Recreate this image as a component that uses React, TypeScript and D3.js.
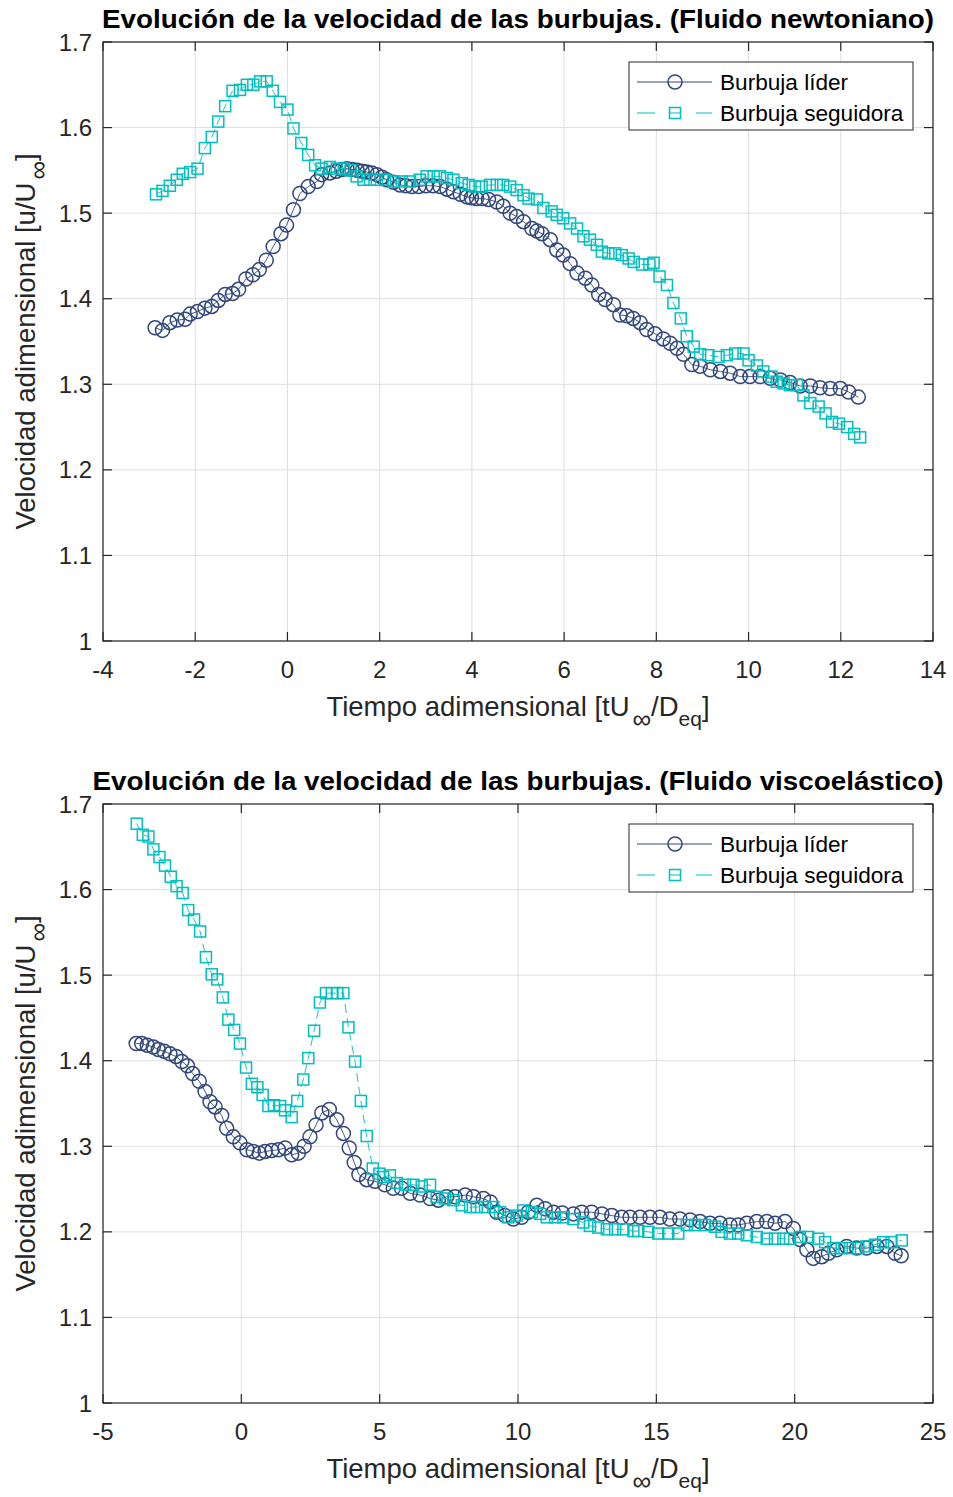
import React from 'react';
import * as d3 from 'd3';

// ---------- Top chart (Fluido newtoniano) ----------
const topTitle = 'Evolución de la velocidad de las burbujas. (Fluido newtoniano)';
const topXTicks = [-4, -2, 0, 2, 4, 6, 8, 10, 12, 14];
const yTicks = [1, 1.1, 1.2, 1.3, 1.4, 1.5, 1.6, 1.7];

const topLeaderT = [-2.87, -2.71, -2.55, -2.39, -2.22, -2.11, -1.95, -1.79, -1.64, -1.50, -1.35, -1.19, -1.06, -0.90, -0.75, -0.61, -0.46, -0.31, -0.14, -0.02, 0.13, 0.27, 0.45, 0.64, 0.74, 0.92, 1.06, 1.18, 1.29, 1.40, 1.51, 1.62, 1.72, 1.83, 1.94, 2.05, 2.15, 2.30, 2.44, 2.57, 2.70, 2.85, 3.00, 3.16, 3.31, 3.46, 3.60, 3.75, 3.89, 3.99, 4.10, 4.22, 4.36, 4.54, 4.68, 4.83, 4.97, 5.12, 5.30, 5.41, 5.52, 5.70, 5.84, 5.98, 6.13, 6.28, 6.46, 6.60, 6.75, 6.89, 7.07, 7.21, 7.36, 7.50, 7.65, 7.79, 7.97, 8.15, 8.30, 8.45, 8.59, 8.77, 8.95, 9.17, 9.39, 9.60, 9.82, 10.03, 10.25, 10.47, 10.69, 10.90, 11.12, 11.34, 11.55, 11.77, 11.99, 12.17, 12.38];
const topLeaderV = [1.366, 1.363, 1.372, 1.375, 1.376, 1.382, 1.385, 1.389, 1.391, 1.398, 1.405, 1.406, 1.411, 1.423, 1.428, 1.434, 1.445, 1.461, 1.476, 1.486, 1.504, 1.523, 1.531, 1.537, 1.545, 1.547, 1.549, 1.551, 1.552, 1.551, 1.550, 1.549, 1.548, 1.547, 1.545, 1.542, 1.539, 1.536, 1.533, 1.532, 1.531, 1.531, 1.532, 1.532, 1.531, 1.528, 1.525, 1.522, 1.519, 1.518, 1.517, 1.517, 1.516, 1.513, 1.508, 1.500, 1.496, 1.490, 1.482, 1.479, 1.476, 1.469, 1.457, 1.451, 1.441, 1.430, 1.424, 1.416, 1.405, 1.399, 1.393, 1.381, 1.380, 1.377, 1.372, 1.364, 1.359, 1.353, 1.348, 1.342, 1.335, 1.323, 1.321, 1.317, 1.315, 1.313, 1.309, 1.309, 1.309, 1.307, 1.305, 1.302, 1.298, 1.298, 1.296, 1.295, 1.295, 1.291, 1.285];

const topFollowerT = [-2.85, -2.71, -2.55, -2.40, -2.27, -2.11, -1.95, -1.79, -1.64, -1.50, -1.35, -1.19, -1.03, -0.88, -0.74, -0.59, -0.45, -0.32, -0.16, 0.00, 0.13, 0.30, 0.45, 0.60, 0.74, 0.92, 1.07, 1.22, 1.37, 1.50, 1.65, 1.79, 1.94, 2.12, 2.30, 2.48, 2.66, 2.87, 3.02, 3.17, 3.31, 3.46, 3.60, 3.78, 3.93, 4.07, 4.21, 4.39, 4.54, 4.68, 4.83, 4.97, 5.12, 5.23, 5.41, 5.55, 5.73, 5.84, 5.98, 6.13, 6.28, 6.42, 6.56, 6.71, 6.82, 6.96, 7.11, 7.25, 7.40, 7.51, 7.69, 7.85, 7.94, 8.07, 8.23, 8.37, 8.53, 8.66, 8.81, 8.95, 9.13, 9.35, 9.53, 9.71, 9.89, 10.00, 10.18, 10.32, 10.50, 10.61, 10.76, 10.90, 11.05, 11.19, 11.34, 11.52, 11.67, 11.81, 11.96, 12.14, 12.29, 12.42];
const topFollowerV = [1.522, 1.526, 1.532, 1.539, 1.546, 1.548, 1.552, 1.576, 1.589, 1.607, 1.625, 1.643, 1.644, 1.650, 1.650, 1.654, 1.654, 1.643, 1.630, 1.621, 1.599, 1.582, 1.568, 1.556, 1.552, 1.554, 1.552, 1.552, 1.550, 1.543, 1.539, 1.539, 1.539, 1.539, 1.537, 1.537, 1.537, 1.539, 1.543, 1.543, 1.543, 1.541, 1.539, 1.535, 1.533, 1.531, 1.531, 1.533, 1.533, 1.533, 1.531, 1.527, 1.521, 1.517, 1.516, 1.506, 1.502, 1.498, 1.494, 1.488, 1.482, 1.473, 1.469, 1.463, 1.455, 1.453, 1.453, 1.451, 1.447, 1.443, 1.440, 1.440, 1.442, 1.426, 1.416, 1.395, 1.377, 1.356, 1.344, 1.335, 1.334, 1.332, 1.334, 1.336, 1.336, 1.328, 1.322, 1.315, 1.309, 1.303, 1.301, 1.299, 1.299, 1.287, 1.278, 1.274, 1.266, 1.256, 1.254, 1.250, 1.242, 1.238];

// ---------- Bottom chart (Fluido viscoelástico) ----------
const botTitle = 'Evolución de la velocidad de las burbujas. (Fluido viscoelástico)';
const botXTicks = [-5, 0, 5, 10, 15, 20, 25];

const botLeaderT = [-3.80, -3.60, -3.40, -3.18, -3.00, -2.79, -2.58, -2.36, -2.15, -1.95, -1.76, -1.52, -1.31, -1.13, -0.95, -0.71, -0.53, -0.29, -0.05, 0.20, 0.43, 0.65, 0.86, 1.10, 1.34, 1.58, 1.82, 2.06, 2.27, 2.48, 2.70, 2.91, 3.18, 3.45, 3.69, 3.90, 4.08, 4.25, 4.53, 4.83, 5.19, 5.49, 5.79, 6.10, 6.46, 6.82, 7.12, 7.42, 7.72, 8.09, 8.39, 8.75, 9.00, 9.23, 9.53, 9.83, 10.13, 10.37, 10.68, 10.98, 11.28, 11.60, 12.00, 12.30, 12.66, 13.03, 13.39, 13.75, 14.05, 14.41, 14.77, 15.13, 15.49, 15.85, 16.22, 16.58, 16.94, 17.30, 17.66, 17.96, 18.27, 18.63, 18.99, 19.29, 19.65, 19.95, 20.19, 20.44, 20.67, 20.98, 21.22, 21.52, 21.88, 22.24, 22.60, 22.97, 23.33, 23.63, 23.85];
const botLeaderV = [1.420, 1.420, 1.418, 1.416, 1.413, 1.411, 1.408, 1.405, 1.399, 1.394, 1.385, 1.376, 1.364, 1.352, 1.346, 1.336, 1.321, 1.311, 1.304, 1.296, 1.294, 1.292, 1.294, 1.295, 1.296, 1.298, 1.290, 1.292, 1.300, 1.311, 1.325, 1.339, 1.343, 1.331, 1.315, 1.298, 1.281, 1.267, 1.261, 1.259, 1.255, 1.251, 1.251, 1.245, 1.243, 1.239, 1.237, 1.241, 1.241, 1.243, 1.241, 1.239, 1.235, 1.223, 1.219, 1.215, 1.217, 1.223, 1.231, 1.227, 1.223, 1.222, 1.221, 1.223, 1.223, 1.221, 1.219, 1.217, 1.217, 1.217, 1.217, 1.217, 1.215, 1.215, 1.214, 1.212, 1.210, 1.210, 1.208, 1.208, 1.210, 1.212, 1.212, 1.210, 1.212, 1.204, 1.191, 1.179, 1.169, 1.171, 1.175, 1.179, 1.183, 1.181, 1.181, 1.183, 1.183, 1.175, 1.172];

const botFollowerT = [-3.78, -3.56, -3.36, -3.18, -2.96, -2.76, -2.55, -2.34, -2.12, -1.92, -1.71, -1.49, -1.28, -1.07, -0.87, -0.67, -0.47, -0.26, -0.05, 0.17, 0.38, 0.58, 0.77, 0.98, 1.18, 1.40, 1.58, 1.82, 2.02, 2.24, 2.42, 2.63, 2.84, 3.06, 3.27, 3.47, 3.69, 3.87, 4.11, 4.32, 4.53, 4.75, 4.99, 5.13, 5.37, 5.62, 5.92, 6.22, 6.52, 6.82, 7.06, 7.36, 7.66, 7.97, 8.27, 8.51, 8.81, 9.11, 9.35, 9.65, 9.95, 10.19, 10.50, 10.80, 11.04, 11.34, 11.64, 12.00, 12.36, 12.60, 12.90, 13.21, 13.51, 13.81, 14.17, 14.35, 14.71, 15.07, 15.43, 15.79, 16.10, 16.40, 16.76, 17.12, 17.36, 17.66, 17.96, 18.27, 18.63, 18.99, 19.29, 19.59, 19.83, 20.19, 20.49, 20.85, 21.10, 21.40, 21.70, 22.00, 22.30, 22.60, 22.90, 23.20, 23.50, 23.87];
const botFollowerV = [1.677, 1.664, 1.662, 1.647, 1.638, 1.628, 1.615, 1.604, 1.596, 1.576, 1.565, 1.551, 1.521, 1.501, 1.495, 1.474, 1.448, 1.436, 1.420, 1.392, 1.373, 1.369, 1.360, 1.347, 1.348, 1.347, 1.342, 1.334, 1.353, 1.378, 1.403, 1.435, 1.468, 1.479, 1.479, 1.479, 1.479, 1.439, 1.399, 1.353, 1.312, 1.274, 1.268, 1.264, 1.266, 1.257, 1.255, 1.255, 1.253, 1.255, 1.241, 1.239, 1.237, 1.231, 1.229, 1.229, 1.229, 1.229, 1.223, 1.217, 1.219, 1.225, 1.223, 1.221, 1.217, 1.217, 1.217, 1.215, 1.211, 1.207, 1.205, 1.203, 1.203, 1.203, 1.201, 1.201, 1.200, 1.198, 1.198, 1.198, 1.208, 1.208, 1.208, 1.206, 1.200, 1.198, 1.198, 1.196, 1.194, 1.192, 1.192, 1.192, 1.192, 1.194, 1.194, 1.192, 1.188, 1.181, 1.181, 1.181, 1.181, 1.183, 1.185, 1.188, 1.188, 1.190];

const legendLabels = ['Burbuja líder', 'Burbuja seguidora'];

const LEADER = '#31477c';
const FOLLOWER = '#00bfbf';
const AXIS = '#262626';
const GRID = '#dfdfdf';
const FONT = '"Liberation Sans", Arial, Helvetica, sans-serif';

type ChartProps = {
  top: number;
  title: string;
  titleWidth: number;
  xDomain: [number, number];
  xTicks: number[];
  leaderT: number[];
  leaderV: number[];
  followerT: number[];
  followerV: number[];
};

function Chart(p: ChartProps) {
  const left = 103, right = 933;
  const yTop = p.top + 42, yBot = p.top + 641;
  const x = d3.scaleLinear().domain(p.xDomain).range([left, right]);
  const y = d3.scaleLinear().domain([1, 1.7]).range([yBot, yTop]);
  const leader = p.leaderT.map((t, i) => [t, p.leaderV[i]] as [number, number]);
  const follower = p.followerT.map((t, i) => [t, p.followerV[i]] as [number, number]);
  const line = d3.line<[number, number]>().x(d => x(d[0])).y(d => y(d[1]));
  const tickLen = 9;
  const cx = (left + right) / 2;
  const cy = (yTop + yBot) / 2;
  const lgX = 629, lgY = p.top + 62, lgW = 284, lgH = 68;
  const r1 = lgY + 20, r2 = lgY + 51;
  const fmtY = (v: number) => (v === 1 ? '1' : v.toFixed(1));
  const R = 7;
  const S = 11;

  return (
    <g>
      {/* grid */}
      {p.xTicks.map(t => (
        <line key={'gx' + t} x1={x(t)} x2={x(t)} y1={yTop} y2={yBot} stroke={GRID} strokeWidth={1} />
      ))}
      {yTicks.map(t => (
        <line key={'gy' + t} x1={left} x2={right} y1={y(t)} y2={y(t)} stroke={GRID} strokeWidth={1} />
      ))}
      {/* series */}
      <path d={line(leader) || ''} fill="none" stroke={LEADER} strokeWidth={0.9} />
      {leader.map((d, i) => (
        <circle key={'lc' + i} cx={x(d[0])} cy={y(d[1])} r={R} fill="none" stroke={LEADER} strokeWidth={1.5} />
      ))}
      <path d={line(follower) || ''} fill="none" stroke={FOLLOWER} strokeWidth={0.9} strokeDasharray="9,5" />
      {follower.map((d, i) => (
        <rect key={'fr' + i} x={x(d[0]) - S / 2} y={y(d[1]) - S / 2} width={S} height={S} fill="none" stroke={FOLLOWER} strokeWidth={1.5} />
      ))}
      {/* box */}
      <rect x={left} y={yTop} width={right - left} height={yBot - yTop} fill="none" stroke={AXIS} strokeWidth={1.2} />
      {/* ticks */}
      {p.xTicks.map(t => (
        <g key={'tx' + t}>
          <line x1={x(t)} x2={x(t)} y1={yBot} y2={yBot - tickLen} stroke={AXIS} strokeWidth={1.2} />
          <line x1={x(t)} x2={x(t)} y1={yTop} y2={yTop + tickLen} stroke={AXIS} strokeWidth={1.2} />
          <text x={x(t)} y={yBot + 37} textAnchor="middle" fontSize={24} fill={AXIS} fontFamily={FONT}>{t}</text>
        </g>
      ))}
      {yTicks.map(t => (
        <g key={'ty' + t}>
          <line x1={left} x2={left + tickLen} y1={y(t)} y2={y(t)} stroke={AXIS} strokeWidth={1.2} />
          <line x1={right} x2={right - tickLen} y1={y(t)} y2={y(t)} stroke={AXIS} strokeWidth={1.2} />
          <text x={left - 11} y={y(t) + 8.5} textAnchor="end" fontSize={24} fill={AXIS} fontFamily={FONT}>{fmtY(t)}</text>
        </g>
      ))}
      {/* title */}
      <text x={cx} y={p.top + 28} textAnchor="middle" fontSize={26} fontWeight="bold" fill="#000" fontFamily={FONT}
        textLength={p.titleWidth} lengthAdjust="spacingAndGlyphs">{p.title}</text>
      {/* x label */}
      <text x={cx} y={yBot + 75} textAnchor="middle" fontSize={27.5} fill={AXIS} fontFamily={FONT}>
        Tiempo adimensional [tU<tspan dx={3} dy={12} fontSize={26}>∞</tspan><tspan dy={-12}>/D</tspan><tspan dy={10} fontSize={21}>eq</tspan><tspan dy={-10}>]</tspan>
      </text>
      {/* y label */}
      <text transform={`translate(${35},${cy}) rotate(-90)`} textAnchor="middle" fontSize={27.5} fill={AXIS} fontFamily={FONT}>
        Velocidad adimensional [u/U<tspan dx={3} dy={12} fontSize={26}>∞</tspan><tspan dy={-12}>]</tspan>
      </text>
      {/* legend */}
      <rect x={lgX} y={lgY} width={lgW} height={lgH} fill="#fff" stroke={AXIS} strokeWidth={1} />
      <line x1={lgX + 8} x2={lgX + 83} y1={r1} y2={r1} stroke={LEADER} strokeWidth={1} />
      <circle cx={lgX + 46} cy={r1} r={R} fill="none" stroke={LEADER} strokeWidth={1.5} />
      <text x={lgX + 91} y={r1 + 8} fontSize={22.6} fill="#000" fontFamily={FONT}>{legendLabels[0]}</text>
      <line x1={lgX + 8} x2={lgX + 26} y1={r2} y2={r2} stroke={FOLLOWER} strokeWidth={1} />
      <line x1={lgX + 40} x2={lgX + 52} y1={r2} y2={r2} stroke={FOLLOWER} strokeWidth={1} />
      <line x1={lgX + 67} x2={lgX + 83} y1={r2} y2={r2} stroke={FOLLOWER} strokeWidth={1} />
      <rect x={lgX + 46 - S / 2} y={r2 - S / 2} width={S} height={S} fill="none" stroke={FOLLOWER} strokeWidth={1.5} />
      <text x={lgX + 91} y={r2 + 8} fontSize={22.6} fill="#000" fontFamily={FONT}>{legendLabels[1]}</text>
    </g>
  );
}

export default function App() {
  return (
    <svg width={953} height={1497} viewBox="0 0 953 1497"
      style={{ position: 'absolute', left: 0, top: 0, background: '#fff' }}>
      <rect x={0} y={0} width={953} height={1497} fill="#fff" />
      <Chart top={0} title={topTitle} titleWidth={832} xDomain={[-4, 14]} xTicks={topXTicks}
        leaderT={topLeaderT} leaderV={topLeaderV} followerT={topFollowerT} followerV={topFollowerV} />
      <Chart top={762} title={botTitle} titleWidth={851} xDomain={[-5, 25]} xTicks={botXTicks}
        leaderT={botLeaderT} leaderV={botLeaderV} followerT={botFollowerT} followerV={botFollowerV} />
    </svg>
  );
}
